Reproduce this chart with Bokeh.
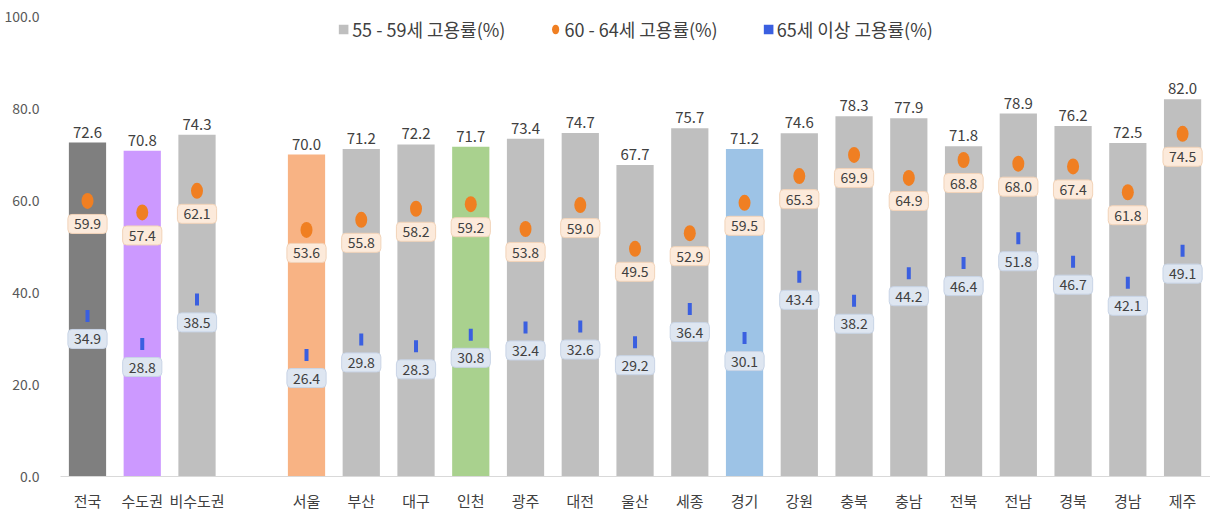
from bokeh.plotting import figure
from bokeh.models import Range1d, ColumnDataSource, Legend, LegendItem, FixedTicker
from bokeh.core.properties import value
from bokeh.embed import file_html
from bokeh.resources import INLINE

regions = ["전국", "수도권", "비수도권", "서울", "부산", "대구", "인천", "광주", "대전", "울산",
           "세종", "경기", "강원", "충북", "충남", "전북", "전남", "경북", "경남", "제주"]
rate_55_59 = [72.6, 70.8, 74.3, 70.0, 71.2, 72.2, 71.7, 73.4, 74.7, 67.7,
              75.7, 71.2, 74.6, 78.3, 77.9, 71.8, 78.9, 76.2, 72.5, 82.0]
rate_60_64 = [59.9, 57.4, 62.1, 53.6, 55.8, 58.2, 59.2, 53.8, 59.0, 49.5,
              52.9, 59.5, 65.3, 69.9, 64.9, 68.8, 68.0, 67.4, 61.8, 74.5]
rate_65 = [34.9, 28.8, 38.5, 26.4, 29.8, 28.3, 30.8, 32.4, 32.6, 29.2,
           36.4, 30.1, 43.4, 38.2, 44.2, 46.4, 51.8, 46.7, 42.1, 49.1]
bar_colors = ["#7F7F7F", "#CC99FF", "#BFBFBF", "#F8B384", "#BFBFBF", "#BFBFBF", "#A9D18E",
              "#BFBFBF", "#BFBFBF", "#BFBFBF", "#BFBFBF", "#9DC3E6", "#BFBFBF", "#BFBFBF",
              "#BFBFBF", "#BFBFBF", "#BFBFBF", "#BFBFBF", "#BFBFBF", "#BFBFBF"]
y_ticks = [0, 20, 40, 60, 80, 100]
legend_labels = ["55 - 59세 고용률(%)", "60 - 64세 고용률(%)", "65세 이상 고용률(%)"]

FONT = "Noto Sans CJK KR"
TXT = "#404040"

# one empty slot after the first three aggregate groups
xpos = [i if i < 3 else i + 1 for i in range(len(regions))]

src = ColumnDataSource(dict(
    x=xpos, r55=rate_55_59, r60=rate_60_64, r65=rate_65, color=bar_colors,
    t55=[f"{v:.1f}" for v in rate_55_59],
    t60=[f"{v:.1f}" for v in rate_60_64],
    t65=[f"{v:.1f}" for v in rate_65],
))

p = figure(frame_width=1150, frame_height=460, output_backend="svg", toolbar_location=None,
           x_range=Range1d(-0.493, 20.51), y_range=Range1d(0, 100),
           min_border_left=60, min_border_right=0, min_border_top=16, min_border_bottom=0)
p.outline_line_color = None
p.grid.grid_line_color = None
p.background_fill_color = "white"
p.border_fill_color = "white"

bars = p.vbar(x="x", top="r55", width=0.68, bottom=0, fill_color="color", line_color=None, source=src)

p.text(x="x", y="r55", text="t55", source=src, text_align="center", text_baseline="bottom",
       y_offset=-5, text_font=value(FONT), text_font_size="15px", text_color=TXT)

# 60-64 labels
p.text(x="x", y="r60", text="t60", source=src, text_align="center", text_baseline="middle",
       y_offset=23, text_font=value(FONT), text_font_size="14px", text_color=TXT,
       background_fill_color="#FCEADB", border_line_color="#F2D3B8", border_line_width=1,
       padding=dict(left=6, right=6, top=4, bottom=4), border_radius=4)
# 65+ labels
p.text(x="x", y="r65", text="t65", source=src, text_align="center", text_baseline="middle",
       y_offset=23, text_font=value(FONT), text_font_size="14px", text_color=TXT,
       background_fill_color="#DEE6F1", border_line_color="#C8D4E6", border_line_width=1,
       padding=dict(left=6, right=6, top=4, bottom=4), border_radius=4)

dots = p.ellipse(x="x", y="r60", width=12, height=16, width_units="screen", height_units="screen",
                 fill_color="#F07F22", line_color=None, source=src)
ticks65 = p.rect(x="x", y="r65", width=4, height=12, width_units="screen", height_units="screen",
                 fill_color="#3A5FE0", line_color=None, source=src)

legend = Legend(items=[LegendItem(label=legend_labels[0], renderers=[bars], index=2),
                       LegendItem(label=legend_labels[1], renderers=[dots], index=0),
                       LegendItem(label=legend_labels[2], renderers=[ticks65], index=0)],
                orientation="horizontal", location="top_center", glyph_width=12, glyph_height=12,
                label_standoff=3, spacing=44, margin=0, padding=2,
                border_line_color=None, background_fill_alpha=0,
                label_text_font=FONT, label_text_font_size="18px", label_text_color=TXT)
p.add_layout(legend, "center")

p.xaxis.ticker = FixedTicker(ticks=xpos)
p.xaxis.major_label_overrides = {x: r for x, r in zip(xpos, regions)}
p.xaxis.axis_line_color = "#D9D9D9"
p.xaxis.major_tick_line_color = None
p.xaxis.minor_tick_line_color = None
p.xaxis.major_label_text_font = FONT
p.xaxis.major_label_text_font_size = "15px"
p.xaxis.major_label_text_color = TXT
p.xaxis.major_label_standoff = 7

p.yaxis.ticker = FixedTicker(ticks=y_ticks)
p.yaxis.major_label_overrides = {t: f"{t:.1f}" for t in y_ticks}
p.yaxis.axis_line_color = None
p.yaxis.major_tick_line_color = None
p.yaxis.minor_tick_line_color = None
p.yaxis.major_label_text_font = FONT
p.yaxis.major_label_text_font_size = "14px"
p.yaxis.major_label_text_color = "#595959"
p.yaxis.major_label_standoff = 15

open("out.html", "w").write(file_html(p, INLINE))
